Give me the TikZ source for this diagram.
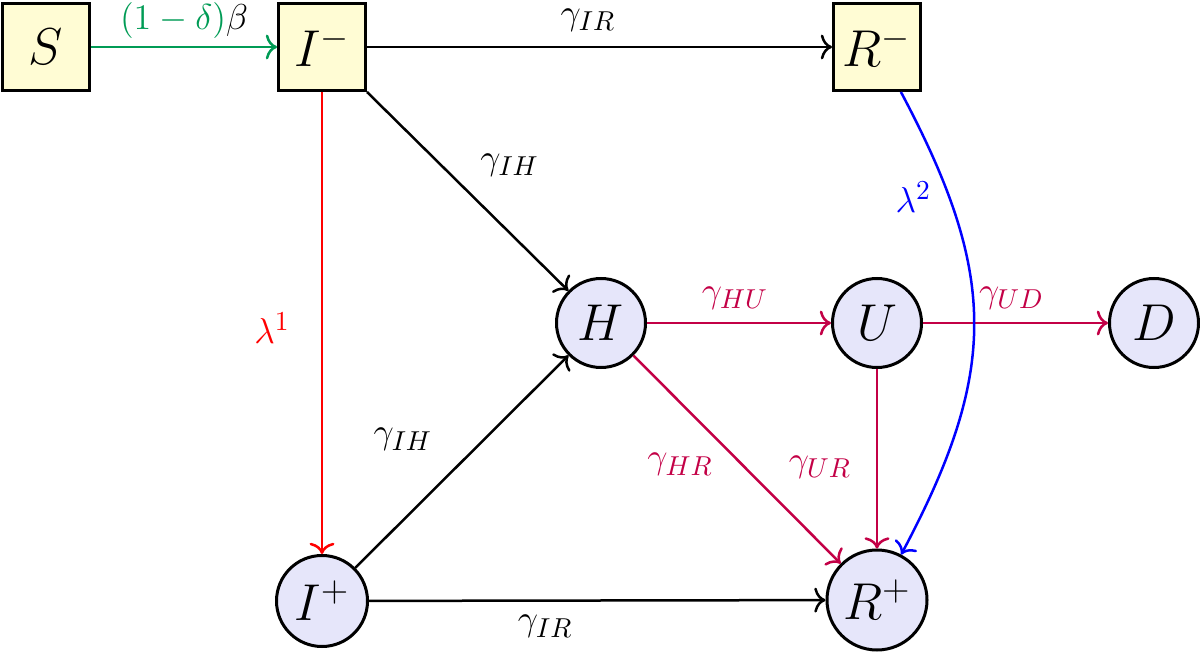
\documentclass[tikz,border=0pt]{standalone}
\usetikzlibrary{arrows.meta}
\definecolor{grn}{RGB}{0,155,85}
\definecolor{crim}{RGB}{195,0,70}
\definecolor{sqfill}{RGB}{255,252,212}
\definecolor{cfill}{RGB}{230,230,250}
\begin{document}
\begin{tikzpicture}[x=0.4pt,y=-0.4pt,
 sq/.style={draw, line width=1.2pt, fill=sqfill, minimum size=34.8pt, inner sep=0pt, font=\fontsize{22}{26}\selectfont},
 cir/.style={draw, circle, line width=1.2pt, fill=cfill, minimum size=35.6pt, inner sep=0pt, font=\fontsize{22}{26}\selectfont},
 edge/.style={line width=1pt, -{To[length=4.5pt,width=10pt]}},
 lbl/.style={font=\fontsize{15}{18}\selectfont, inner sep=0pt}]
\useasboundingbox (0,0) rectangle (1200,652);
\node[sq] (S) at (46,47) {$S$};
\node[sq] (Im) at (322,47) {$I^-$};
\node[sq] (Rm) at (877,47) {$R^-$};
\node[cir] (H) at (601,323) {$H$};
\node[cir] (U) at (877,323) {$U$};
\node[cir] (D) at (1154,323) {$D$};
\node[cir, minimum size=36.4pt] (Ip) at (322,601) {$I^+$};
\node[cir, minimum size=40pt] (Rp) at (877,600) {$R^+$};

\draw[edge, grn] (S) -- node[lbl, font=\fontsize{14}{16}\selectfont, yshift=10.4pt] {$\textcolor{grn}{(1-\delta)}\textcolor{black}{\beta}$} (Im);
\draw[edge] (Im) -- node[lbl, xshift=-4.6pt, yshift=10.8pt] {$\gamma_{IR}$} (Rm);
\draw[edge] (Im.south east) -- node[lbl, xshift=16.8pt, yshift=10.4pt] {$\gamma_{IH}$} (H);
\draw[edge, red] (Im) -- node[lbl, xshift=-20pt, yshift=-2pt] {$\lambda^1$} (Ip);
\draw[edge] (Ip) -- node[lbl, xshift=-23.6pt, yshift=8.8pt] {$\gamma_{IH}$} (H);
\draw[edge] (Ip) -- node[lbl, xshift=-20.8pt, yshift=-10.4pt] {$\gamma_{IR}$} (Rp);
\draw[edge, crim] (H) -- node[lbl, xshift=-1.6pt, yshift=10pt] {$\gamma_{HU}$} (U);
\draw[edge, crim] (U) -- node[lbl, xshift=-1.6pt, yshift=10pt] {$\gamma_{UD}$} (D);
\draw[edge, crim] (H) -- node[lbl, xshift=-22.8pt, yshift=-2pt] {$\gamma_{HR}$} (Rp);
\draw[edge, crim] (U) -- node[lbl, xshift=-22.8pt, yshift=-3.2pt] {$\gamma_{UR}$} (Rp);
\draw[edge, blue] (Rm) to[out=-62, in=62, looseness=1.15] node[lbl, pos=0.25, xshift=-17pt, yshift=7.6pt] {$\lambda^2$} (Rp);
\end{tikzpicture}
\end{document}
